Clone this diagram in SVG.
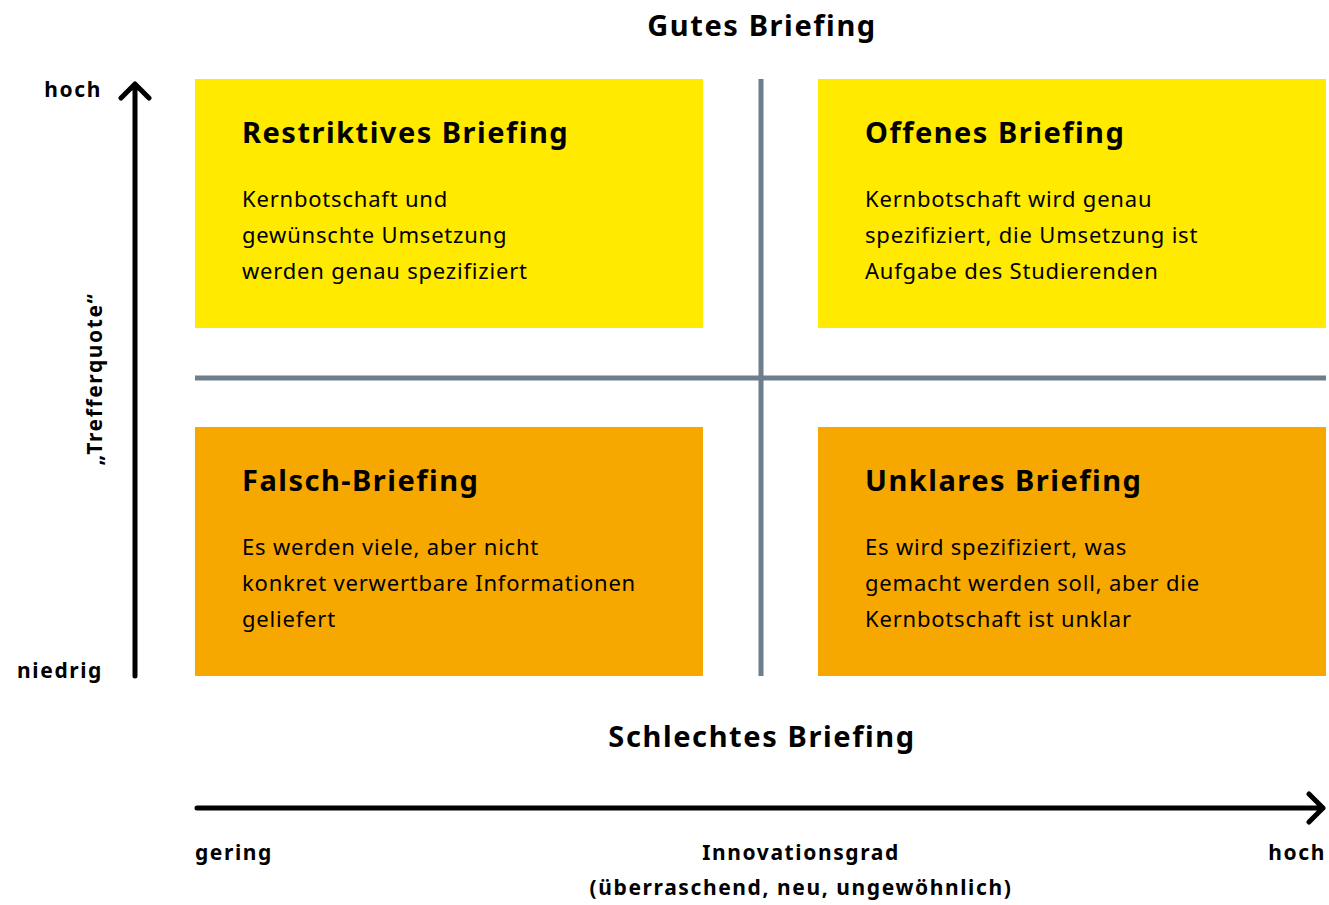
<svg xmlns="http://www.w3.org/2000/svg" width="1329" height="905" viewBox="0 0 1329 905">
<style>
text{font-family:"Noto Sans","Open Sans","Liberation Sans",sans-serif;fill:#000}
.h{font-size:29px;font-weight:bold;letter-spacing:1.6px}
.t{font-size:29px;font-weight:bold;letter-spacing:1.5px}
.b{font-size:22px;letter-spacing:0.8px}
.l{font-size:21px;font-weight:bold;letter-spacing:1.6px}
.y{fill:#FFEA00}
.o{fill:#F6A800}
.g{stroke:#6F7E8C;stroke-width:5;fill:none}
.a{stroke:#000;stroke-width:5;fill:none;stroke-linecap:round;stroke-linejoin:round}
</style>
<rect width="1329" height="905" fill="#fff"/>
<text class="h" x="762" y="36" text-anchor="middle">Gutes Briefing</text>
<text class="h" x="762" y="747" text-anchor="middle">Schlechtes Briefing</text>
<g id="q1"><rect class="y" x="195" y="79" width="508" height="249"/>
<text class="t" x="242" y="143">Restriktives Briefing</text>
<text class="b" x="242" y="207">Kernbotschaft und</text>
<text class="b" x="242" y="243">gewünschte Umsetzung</text>
<text class="b" x="242" y="279">werden genau spezifiziert</text></g>
<g id="q2"><rect class="y" x="818" y="79" width="508" height="249"/>
<text class="t" x="865" y="143">Offenes Briefing</text>
<text class="b" x="865" y="207">Kernbotschaft wird genau</text>
<text class="b" x="865" y="243">spezifiziert, die Umsetzung ist</text>
<text class="b" x="865" y="279">Aufgabe des Studierenden</text></g>
<g id="q3"><rect class="o" x="195" y="427" width="508" height="249"/>
<text class="t" x="242" y="491">Falsch-Briefing</text>
<text class="b" x="242" y="555">Es werden viele, aber nicht</text>
<text class="b" x="242" y="591">konkret verwertbare Informationen</text>
<text class="b" x="242" y="627">geliefert</text></g>
<g id="q4"><rect class="o" x="818" y="427" width="508" height="249"/>
<text class="t" x="865" y="491">Unklares Briefing</text>
<text class="b" x="865" y="555">Es wird spezifiziert, was</text>
<text class="b" x="865" y="591">gemacht werden soll, aber die</text>
<text class="b" x="865" y="627">Kernbotschaft ist unklar</text></g>
<g id="connectors">
<line class="g" x1="761" y1="79" x2="761" y2="676"/>
<line class="g" x1="195" y1="378" x2="1326" y2="378"/>
<path class="a" d="M135 676V84M121 98L135 84L149 98"/>
<path class="a" d="M197 808H1323M1309 794L1323 808L1309 822"/>
</g>
<text class="l" x="102" y="97" text-anchor="end">hoch</text>
<text class="l" x="103" y="678" text-anchor="end">niedrig</text>
<text class="l" transform="translate(102,379) rotate(-90)" text-anchor="middle">„Trefferquote“</text>
<text class="l" x="195" y="860">gering</text>
<text class="l" x="801" y="860" text-anchor="middle">Innovationsgrad</text>
<text class="l" x="801" y="895" text-anchor="middle">(überraschend, neu, ungewöhnlich)</text>
<text class="l" x="1326" y="860" text-anchor="end">hoch</text>
</svg>
